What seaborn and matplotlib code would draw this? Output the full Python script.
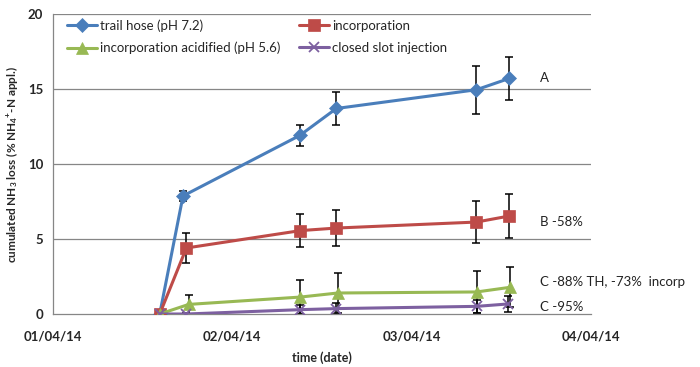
import matplotlib
matplotlib.use("Agg")
import matplotlib.pyplot as plt
import matplotlib.dates as mdates
import seaborn as sns
import pandas as pd

sns.set_theme(style="white")
plt.rcParams['font.family'] = ['Lato', 'DejaVu Sans']
plt.rcParams['mathtext.fontset'] = 'custom'
plt.rcParams['mathtext.rm'] = 'Lato:bold'
plt.rcParams['mathtext.it'] = 'Lato:bold'
plt.rcParams['mathtext.bf'] = 'Lato:bold'

series_names = ["trail hose (pH 7.2)", "incorporation",
                "incorporation acidified (pH 5.6)", "closed slot injection"]

times_th = ["2014-04-01 14:17", "2014-04-01 17:24", "2014-04-02 09:01",
            "2014-04-02 13:55", "2014-04-03 08:40", "2014-04-03 13:02"]
times_inc = ["2014-04-01 14:17", "2014-04-01 17:51", "2014-04-02 09:07",
             "2014-04-02 13:55", "2014-04-03 08:40", "2014-04-03 13:02"]
times_acid = ["2014-04-01 14:17", "2014-04-01 18:10", "2014-04-02 09:07",
              "2014-04-02 14:06", "2014-04-03 08:42", "2014-04-03 13:10"]
times_slot = ["2014-04-01 14:17", "2014-04-01 17:51", "2014-04-02 09:07",
              "2014-04-02 13:55", "2014-04-03 08:42", "2014-04-03 12:54"]

loss_th = [0.0, 7.87, 11.9, 13.7, 14.95, 15.7]
loss_inc = [0.0, 4.4, 5.56, 5.73, 6.13, 6.53]
loss_acid = [0.0, 0.64, 1.13, 1.4, 1.47, 1.78]
loss_slot = [0.0, 0.0, 0.29, 0.36, 0.51, 0.67]

err_th = [0.0, 0.33, 0.73, 1.12, 1.61, 1.44]
err_inc = [0.0, 0.98, 1.1, 1.21, 1.43, 1.46]
err_acid = [0.0, 0.64, 1.11, 1.33, 1.42, 1.33]
err_slot = [0.0, 0.1, 0.3, 0.35, 0.45, 0.55]

annot_texts = ["A", "B -58%", "C -88% TH, -73%  incorp", "C -95%"]
annot_y = [15.7, 6.13, 2.13, 0.47]

colors = ["#4A7EBB", "#BE4B48", "#98B954", "#7D60A0"]
markers = ["D", "s", "^", "x"]
mk_sizes = [7, 8, 8, 7]

all_times = [times_th, times_inc, times_acid, times_slot]
all_loss = [loss_th, loss_inc, loss_acid, loss_slot]
all_err = [err_th, err_inc, err_acid, err_slot]

frames = []
for name, t, v, e in zip(series_names, all_times, all_loss, all_err):
    frames.append(pd.DataFrame({"time": pd.to_datetime(t), "loss": v,
                                "err": e, "series": name}))
df = pd.concat(frames, ignore_index=True)

fig = plt.figure(figsize=(7.0, 3.67), dpi=100)
ax = fig.add_axes([0.0757, 0.1444, 0.7686, 0.8175])

for i, name in enumerate(series_names):
    sub = df[df.series == name]
    ax.errorbar(sub["time"], sub["loss"], yerr=sub["err"], fmt="none",
                ecolor="black", elinewidth=1.1, capsize=3, capthick=1.1,
                zorder=2)

for i, name in enumerate(series_names):
    sub = df[df.series == name]
    mk = markers[i]
    sns.lineplot(data=sub, x="time", y="loss", ax=ax, color=colors[i],
                 marker=mk, markersize=mk_sizes[i], linewidth=2.2,
                 markeredgecolor=colors[i],
                 markeredgewidth=1.3 if mk == "x" else 0.5,
                 label=name, zorder=3, errorbar=None)

x0 = pd.Timestamp("2014-04-01")
x1 = pd.Timestamp("2014-04-04")
ax.set_xlim(x0, x1)
ax.set_ylim(0, 20)
ax.set_yticks([0, 5, 10, 15, 20])
ax.xaxis.set_major_locator(mdates.DayLocator())
ax.xaxis.set_major_formatter(mdates.DateFormatter("%d/%m/%y"))

for yv in [5, 10, 15, 20]:
    ax.axhline(yv, color="#868686", linewidth=0.9, zorder=0)

for s in ["top", "right"]:
    ax.spines[s].set_visible(False)
for s in ["left", "bottom"]:
    ax.spines[s].set_color("#868686")
    ax.spines[s].set_linewidth(0.9)

ax.tick_params(axis="y", which="major", direction="out", length=4,
               color="#868686", labelsize=9.5, pad=3, width=0.9)
ax.tick_params(axis="x", which="major", direction="out", length=4,
               color="#868686", labelsize=9.5, pad=8, width=0.9)
for lab in ax.get_xticklabels() + ax.get_yticklabels():
    lab.set_fontweight("bold")

ax.set_xlabel("time (date)", fontsize=9, fontweight="bold", labelpad=6)
ax.set_ylabel(r"cumulated NH$_3$ loss (% NH$_4$$^{+}$-N appl.)", fontsize=8.5,
              fontweight="bold", labelpad=6)

annot_x = pd.Timestamp("2014-04-03 17:10")
for txt, yv in zip(annot_texts, annot_y):
    ax.text(annot_x, yv, txt, fontsize=9.5, va="center", ha="left",
            color="#222222", clip_on=False)

handles, labels = ax.get_legend_handles_labels()
order = [0, 2, 1, 3]
leg = ax.legend([handles[i] for i in order], [labels[i] for i in order],
                ncol=2, loc="upper left", bbox_to_anchor=(0.004, 1.022),
                frameon=False, fontsize=9.5, handlelength=2.3,
                handletextpad=0.2, columnspacing=1.4, labelspacing=0.75)

fig.savefig("out.png", dpi=100)
